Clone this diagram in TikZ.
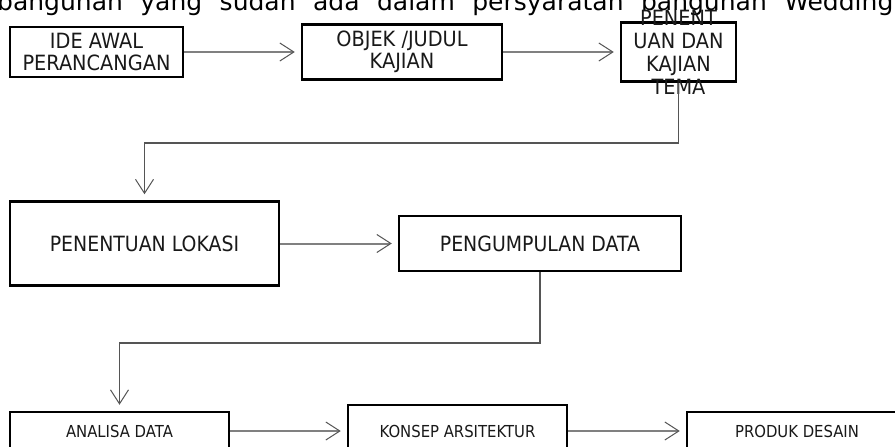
\documentclass[tikz,border=0pt]{standalone}
\usepackage{fontspec}
\setmainfont{DejaVu Sans}
\newfontfamily\cf[FakeStretch=0.9]{DejaVu Sans}
\newfontfamily\cft[FakeStretch=0.92]{DejaVu Sans}
\usetikzlibrary{arrows.meta}
\definecolor{lg}{RGB}{128,128,128}
\definecolor{dg}{RGB}{85,85,85}
\definecolor{tx}{RGB}{25,25,25}
\begin{document}
\begin{tikzpicture}[x=1pt,y=-1pt,
  box/.style={draw=black, line width=2.5pt, fill=white, inner sep=0pt, align=center, text=tx},
  ftop/.style={font=\cft\fontsize{21}{22.5}\selectfont},
  fmid/.style={font=\cf\fontsize{21}{24}\selectfont},
  fbot/.style={font=\cf\fontsize{16.5}{19}\selectfont},
  arrtip/.style={-{Straight Barb[length=14pt,width=18pt,line width=1pt,color=dg]}},
  harrow/.style={arrtip, draw=lg, line width=2pt, shorten >=6pt},
  elbow/.style={arrtip, draw=dg, line width=1.3pt, shorten >=6pt}
]
\useasboundingbox (0,0) rectangle (895,447);
\clip (0,0) rectangle (895,447);

% cut-off text line at the top
\node[anchor=base west, inner sep=0pt, text=black, font=\fontsize{25}{28}\selectfont] (toptext) at (-3,10.5)
  {\makebox[896pt][s]{bangunan yang sudah ada dalam persyaratan bangunan Wedding}};

% top row
\node[box, ftop, minimum width=173pt, minimum height=50pt] (b1) at (96.5,52) {IDE AWAL\\PERANCANGAN};
\node[box, ftop, minimum width=200pt, minimum height=55pt] (b2) at (402,52) {OBJEK /JUDUL\\KAJIAN};
\node[box, minimum width=115pt, minimum height=59pt] (b3) at (678.5,52) {};
\node[align=center, inner sep=0pt, text=tx, font=\cft\fontsize{21}{23}\selectfont] (b3t) at (b3) {PENENT\\UAN DAN\\KAJIAN\\TEMA};

% middle row
\node[box, fmid, minimum width=269pt, minimum height=84pt] (b4) at (144.5,243.5) {PENENTUAN LOKASI};
\node[box, fmid, minimum width=282pt, minimum height=55pt] (b5) at (540,243.5) {PENGUMPULAN DATA};

% bottom row
\node[box, fbot, minimum width=219pt, minimum height=38pt] (b6) at (119.5,431) {ANALISA DATA};
\node[box, fbot, minimum width=219pt, minimum height=52pt] (b7) at (457.5,431) {KONSEP ARSITEKTUR};
\node[box, fbot, minimum width=220pt, minimum height=38pt] (b8) at (797,431) {PRODUK DESAIN};

% junction points
\coordinate (j1) at (b4.north |- 0,143);
\coordinate (j2) at (b6.north |- 0,343);

% connectors
\draw[harrow] (b1) -- (b2);
\draw[harrow] (b2) -- (b3);
\draw[elbow] (b3.south) |- (j1) -- (b4.north);
\draw[harrow] (b4) -- (b5);
\draw[elbow] (b5.south) |- (j2) -- (b6.north);
\draw[harrow] (b6) -- (b7);
\draw[harrow] (b7) -- (b8);
\end{tikzpicture}
\end{document}
